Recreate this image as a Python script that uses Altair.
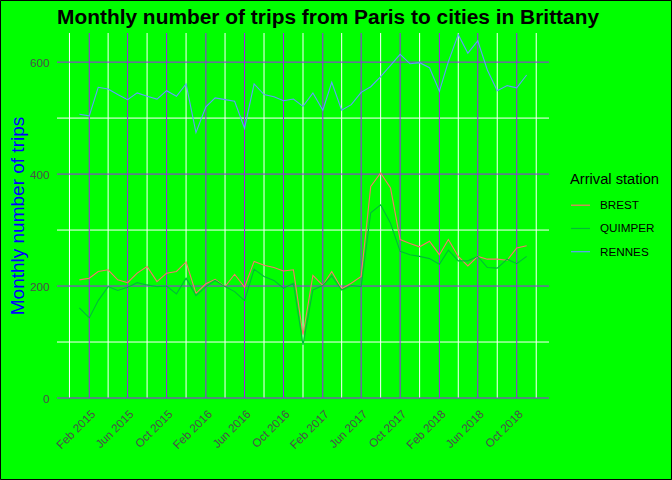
import altair as alt
import pandas as pd

# ---- data ----
months = [f"{y}-{m:02d}-01" for y in range(2015, 2019) for m in range(1, 13)][:47]
brest = [211, 214, 226, 229, 211, 206, 223, 235, 208, 223, 226, 243,
         187, 204, 212, 199, 221, 198, 244, 237, 233, 227, 229, 113,
         219, 201, 226, 195, 205, 217, 378, 402, 375, 283, 276, 270,
         280, 256, 283, 253, 236, 253, 248, 248, 246, 268, 272]
quimper = [161, 143, 174, 199, 192, 198, 206, 202, 199, 200, 186, 214,
           183, 199, 210, 199, 190, 174, 230, 217, 210, 196, 205, 95,
           193, 201, 218, 193, 201, 199, 331, 345, 312, 262, 256, 253,
           249, 239, 264, 245, 245, 253, 233, 232, 248, 240, 253]
rennes = [507, 504, 555, 552, 542, 533, 545, 539, 534, 549, 539, 561,
          474, 520, 536, 533, 530, 482, 561, 542, 538, 531, 534, 521,
          545, 514, 564, 514, 524, 546, 556, 574, 594, 614, 597, 599,
          590, 548, 601, 649, 616, 638, 586, 549, 558, 554, 577]
stations = ["BREST", "QUIMPER", "RENNES"]
colors = ["#F8766D", "#00BA38", "#619CFF"]

major_x = [(2015, 2), (2015, 6), (2015, 10), (2016, 2), (2016, 6), (2016, 10),
           (2017, 2), (2017, 6), (2017, 10), (2018, 2), (2018, 6), (2018, 10)]
minor_x = [(2014, 12), (2015, 4), (2015, 8), (2015, 12), (2016, 4), (2016, 8),
           (2016, 12), (2017, 4), (2017, 8), (2017, 12), (2018, 4), (2018, 8),
           (2018, 12)]
major_y = [0, 200, 400, 600]
minor_y = [100, 300, 500]

FONT = "Liberation Sans"
BG = "#00FF00"
PURPLE = "#A020F0"

df = pd.DataFrame({
    "date": months * 3,
    "station": [s for s in stations for _ in months],
    "trips": brest + quimper + rennes,
})
major_x_str = [f"{y}-{m:02d}-01" for y, m in major_x]
minor_x_str = [f"{y}-{m:02d}-01" for y, m in minor_x]

xscale = alt.Scale(type="utc",
                   domain=[alt.DateTime(year=2014, month=10, date=23, utc=True),
                           alt.DateTime(year=2019, month=1, date=10, utc=True)])
yscale = alt.Scale(domain=[0, 652], nice=False, zero=True)

x_axis = alt.Axis(values=[alt.DateTime(year=y, month=m, date=1, utc=True)
                          for y, m in major_x],
                  format="%b %Y", labelAngle=315, labelAlign="right",
                  labelBaseline="top", labelPadding=10, ticks=False,
                  domain=False, grid=False, title=None,
                  labelColor="#4D4D4D", labelFontSize=11.7, labelFont=FONT,
                  labelFlush=False, labelOverlap=False)
y_axis = alt.Axis(values=major_y, grid=False, domain=False, ticks=False,
                  labelPadding=8, labelColor="#4D4D4D", labelFontSize=11.7,
                  labelFont=FONT, title="Monthly number of trips",
                  titleColor="#0000FF", titleFontSize=19,
                  titleFontWeight="normal", titleFont=FONT,
                  titleX=-40, titleY=182.5, titleAngle=270,
                  titleBaseline="middle", titleAlign="center")

minor_v = alt.Chart(pd.DataFrame({"d": minor_x_str})).mark_rule(
    color="white", strokeWidth=1).encode(x=alt.X("d:T", scale=xscale, axis=x_axis))
minor_h = alt.Chart(pd.DataFrame({"v": minor_y})).mark_rule(
    color="white", strokeWidth=1).encode(y=alt.Y("v:Q", scale=yscale, axis=y_axis))
major_v = alt.Chart(pd.DataFrame({"d": major_x_str})).mark_rule(
    color=PURPLE, strokeWidth=1).encode(x=alt.X("d:T", scale=xscale, axis=x_axis))
major_h = alt.Chart(pd.DataFrame({"v": major_y})).mark_rule(
    color=PURPLE, strokeWidth=1).encode(y=alt.Y("v:Q", scale=yscale, axis=y_axis))

lines = alt.Chart(df).mark_line(strokeWidth=1.1).encode(
    x=alt.X("date:T", scale=xscale, axis=x_axis),
    y=alt.Y("trips:Q", scale=yscale, axis=y_axis),
    color=alt.Color("station:N", scale=alt.Scale(domain=stations, range=colors),
                    legend=alt.Legend(title="Arrival station", orient="none",
                                      legendX=513, legendY=139, padding=0,
                                      symbolType="stroke", symbolSize=361,
                                      symbolStrokeWidth=1.2, labelOffset=9,
                                      labelFont=FONT, labelFontSize=11.7,
                                      labelColor="black", titleFont=FONT,
                                      titleFontSize=14.7, titleFontWeight="normal",
                                      titleColor="black", titlePadding=8,
                                      rowPadding=5.25)),
    detail="station:N",
)

border = alt.Chart(pd.DataFrame({"a": [0]})).mark_rect(
    filled=False, stroke="black", strokeWidth=1).encode(
    x=alt.value(-56.5), x2=alt.value(614.5), y=alt.value(-32.5), y2=alt.value(446.5))

chart = alt.layer(minor_v, minor_h, major_v, major_h, lines, border).properties(
    width=492, height=365,
    title=alt.TitleParams("Monthly number of trips from Paris to cities in Brittany",
                          anchor="start", frame="group", fontSize=20.9,
                          fontWeight="bold", font=FONT, color="black",
                          offset=0, dy=28),
    autosize=alt.AutoSizeParams(type="none"),
    padding={"left": 57, "top": 33, "right": 123, "bottom": 82},
    background=BG,
).configure_view(strokeWidth=0, fill=BG)

chart.save("out.html", embed_options={"renderer": "svg", "actions": False})
